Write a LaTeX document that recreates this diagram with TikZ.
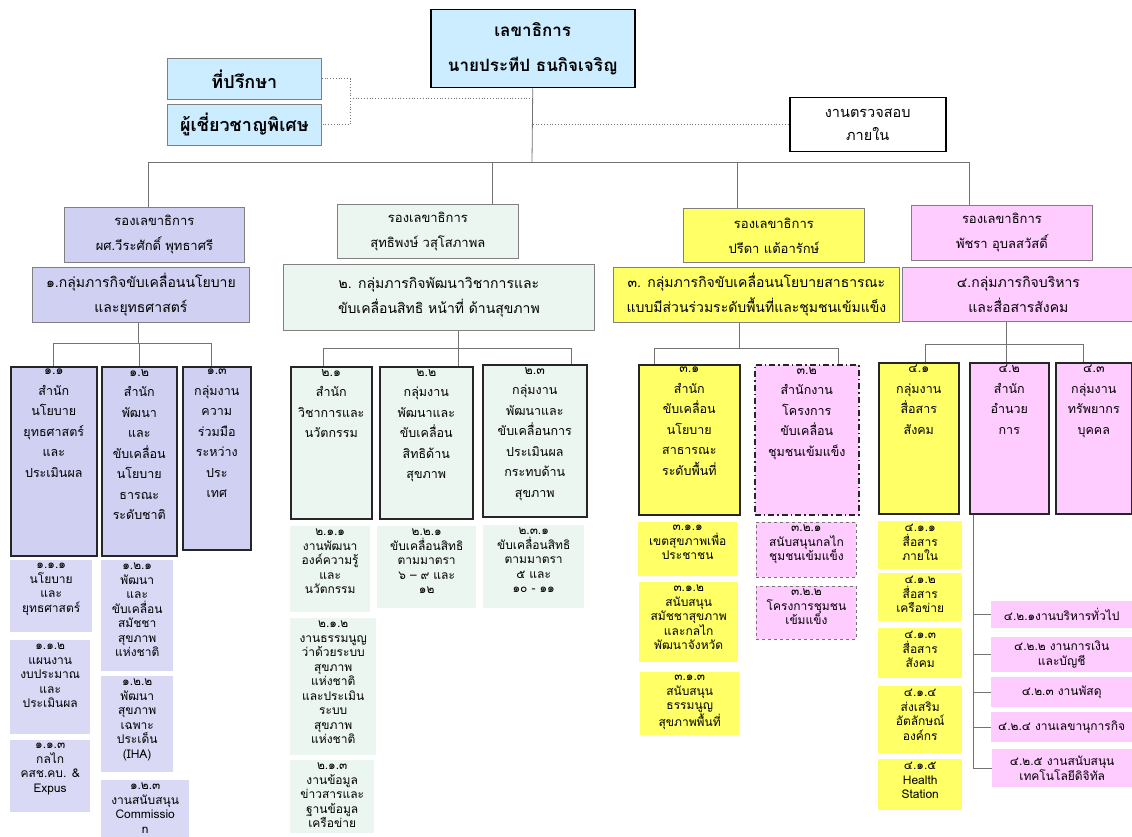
\documentclass[tikz,border=0pt]{standalone}
\usepackage{fontspec}
\setmainfont[Script=Thai]{Loma}
\usepackage{tikz}
\usetikzlibrary{positioning}

\definecolor{secblue}{RGB}{204,236,255}
\definecolor{lav}{RGB}{208,208,242}
\definecolor{lavsub}{RGB}{217,217,245}
\definecolor{mint}{RGB}{236,246,240}
\definecolor{yel}{RGB}{255,255,102}
\definecolor{pnk}{RGB}{255,204,255}

\tikzstyle{boxnw} = [rectangle, anchor=north west, inner sep=2pt, align=center]
\tikzstyle{chief} = [boxnw, draw=black, line width=1.5pt, fill=secblue, font=\fontsize{17}{35}\selectfont\bfseries]
\tikzstyle{advisor} = [boxnw, draw=black!50, line width=0.8pt, fill=secblue, font=\fontsize{18}{20}\selectfont\bfseries]
\tikzstyle{audit} = [boxnw, draw=black, line width=1.5pt, fill=white, font=\fontsize{14.5}{23}\selectfont]
\tikzstyle{deputy} = [boxnw, draw=black!50, line width=0.8pt, font=\fontsize{13}{25}\selectfont]
\tikzstyle{mission} = [boxnw, draw=black!50, line width=0.8pt, font=\fontsize{14}{25}\selectfont]
\tikzstyle{unit} = [boxnw, draw=black!85, line width=1.6pt]
\tikzstyle{subunit} = [boxnw]
\tikzstyle{unittext} = [anchor=north, align=center, inner sep=3pt, font=\fontsize{12.5}{20.5}\selectfont]
\tikzstyle{subtext} = [anchor=north, align=center, inner sep=3pt, font=\fontsize{12}{14.5}\selectfont]
\tikzstyle{worktext} = [font=\fontsize{12}{14.5}\selectfont]
\tikzstyle{link} = [draw=black!55, line width=0.8pt]
\tikzstyle{dotlink} = [draw=black!55, line width=0.8pt, dotted]

\begin{document}
\begin{tikzpicture}[x=1pt, y=-1pt]
    \clip (0,0) rectangle (1132,837);

    % top level
    \node (sec) [chief, minimum width=204, minimum height=78] at (430,9) {เลขาธิการ\\นายประทีป ธนกิจเจริญ};
    \node (adv) [advisor, minimum width=154, minimum height=41] at (167,58) {ที่ปรึกษา};
    \node (expert) [advisor, minimum width=154, minimum height=41] at (167,104) {ผู้เชี่ยวชาญพิเศษ};
    \node (audit) [audit, minimum width=156, minimum height=54] at (789,97) {งานตรวจสอบ\\ภายใน};

    % deputies
    \node (dep1) [deputy, fill=lav, minimum width=180, minimum height=55] at (64,207) {รองเลขาธิการ\\ผศ.วีระศักดิ์ พุทธาศรี};
    \node (dep2) [deputy, fill=mint, minimum width=181, minimum height=54] at (337,204) {รองเลขาธิการ\\สุทธิพงษ์ วสุโสภาพล};
    \node (dep3) [deputy, fill=yel, minimum width=181, minimum height=54] at (683,208) {รองเลขาธิการ\\ปรีดา แต้อารักษ์};
    \node (dep4) [deputy, fill=pnk, minimum width=181, minimum height=55] at (911,205) {รองเลขาธิการ\\พัชรา อุบลสวัสดิ์};

    % mission groups
    \node (grp1) [mission, fill=lav, minimum width=217, minimum height=55] at (32,267) {๑.กลุ่มภารกิจขับเคลื่อนนโยบาย\\และยุทธศาสตร์};
    \node (grp2) [mission, fill=mint, minimum width=311, minimum height=66] at (283,264) {๒. กลุ่มภารกิจพัฒนาวิชาการและ\\ขับเคลื่อนสิทธิ หน้าที่ ด้านสุขภาพ};
    \node (grp3) [mission, fill=yel, minimum width=286, minimum height=55] at (613,267) {๓. กลุ่มภารกิจขับเคลื่อนนโยบายสาธารณะ\\แบบมีส่วนร่วมระดับพื้นที่และชุมชนเข้มแข็ง};
    \node (grp4) [mission, fill=pnk, minimum width=232, minimum height=54] at (902,267) {๔.กลุ่มภารกิจบริหาร\\และสื่อสารสังคม};

    % units
    \node (u11) [unit, fill=lav, minimum width=86, minimum height=189, label={[unittext]north:{๑.๑\\สำนัก\\นโยบาย\\ยุทธศาสตร์\\และ\\ประเมินผล}}] at (10,366) {};
    \node (u12) [unit, fill=lav, minimum width=75, minimum height=189, label={[unittext]north:{๑.๒\\สำนัก\\พัฒนา\\และ\\ขับเคลื่อน\\นโยบาย\\ธารณะ\\ระดับชาติ}}] at (101,366) {};
    \node (u13) [unit, fill=lav, minimum width=68, minimum height=183, label={[unittext]north:{๑.๓\\กลุ่มงาน\\ความ\\ร่วมมือ\\ระหว่าง\\ประ\\เทศ}}] at (182,366) {};
    \node (u21) [unit, fill=mint, minimum width=81, minimum height=152, label={[unittext]north:{๒.๑\\สำนัก\\วิชาการและ\\นวัตกรรม}}] at (290,366) {};
    \node (u22) [unit, fill=mint, minimum width=93, minimum height=152, label={[unittext]north:{๒.๒\\กลุ่มงาน\\พัฒนาและ\\ขับเคลื่อน\\สิทธิด้าน\\สุขภาพ}}] at (379,366) {};
    \node (u23) [unit, fill=mint, minimum width=104, minimum height=152, label={[unittext]north:{๒.๓\\กลุ่มงาน\\พัฒนาและ\\ขับเคลื่อนการ\\ประเมินผล\\กระทบด้าน\\สุขภาพ}}] at (482,364) {};
    \node (u31) [unit, fill=yel, minimum width=101, minimum height=150, label={[unittext]north:{๓.๑\\สำนัก\\ขับเคลื่อน\\นโยบาย\\สาธารณะ\\ระดับพื้นที่}}] at (638,364) {};
    \node (u32) [unit, fill=pnk, dash pattern=on 6pt off 3pt on 1.5pt off 3pt, minimum width=104, minimum height=150, label={[unittext]north:{๓.๒\\สำนักงาน\\โครงการ\\ขับเคลื่อน\\ชุมชนเข้มแข็ง}}] at (754,364) {};
    \node (u41) [unit, fill=yel, minimum width=80, minimum height=151, label={[unittext]north:{๔.๑\\กลุ่มงาน\\สื่อสาร\\สังคม}}] at (878,362) {};
    \node (u42) [unit, fill=pnk, minimum width=79, minimum height=151, label={[unittext]north:{๔.๒\\สำนัก\\อำนวย\\การ}}] at (969,362) {};
    \node (u43) [unit, fill=pnk, minimum width=76, minimum height=151, label={[unittext]north:{๔.๓\\กลุ่มงาน\\ทรัพยากร\\บุคคล}}] at (1055,362) {};

    % sub units, group 1
    \node (s111) [subunit, fill=lavsub, minimum width=82, minimum height=72, label={[subtext]north:{๑.๑.๑\\นโยบาย\\และ\\ยุทธศาสตร์}}] at (10,560) {};
    \node (s112) [subunit, fill=lavsub, minimum width=80, minimum height=94, label={[subtext]north:{๑.๑.๒\\แผนงาน\\งบประมาณ\\และ\\ประเมินผล}}] at (10,640) {};
    \node (s113) [subunit, fill=lavsub, minimum width=80, minimum height=72, label={[subtext]north:{๑.๑.๓\\กลไก\\คสช.คบ. \&\\Expus}}] at (10,740) {};
    \node (s121) [subunit, fill=lavsub, minimum width=72, minimum height=111, label={[subtext]north:{๑.๒.๑\\พัฒนา\\และ\\ขับเคลื่อน\\สมัชชา\\สุขภาพ\\แห่งชาติ}}] at (101,560) {};
    \node (s122) [subunit, fill=lavsub, minimum width=72, minimum height=96, label={[subtext]north:{๑.๒.๒\\พัฒนา\\สุขภาพ\\เฉพาะ\\ประเด็น\\(IHA)}}] at (101,676) {};
    \node (s123) [subunit, fill=lavsub, minimum width=88, minimum height=70, label={[subtext]north:{๑.๒.๓\\งานสนับสนุน\\Commissio\\n}}] at (101,780) {};

    % sub units, group 2
    \node (s211) [subunit, fill=mint, minimum width=80, minimum height=86, label={[subtext]north:{๒.๑.๑\\งานพัฒนา\\องค์ความรู้\\และ\\นวัตกรรม}}] at (290,526) {};
    \node (s212) [subunit, fill=mint, minimum width=86, minimum height=137, label={[subtext]north:{๒.๑.๒\\งานธรรมนูญ\\ว่าด้วยระบบ\\สุขภาพ\\แห่งชาติ\\และประเมิน\\ระบบ\\สุขภาพ\\แห่งชาติ}}] at (290,618) {};
    \node (s213) [subunit, fill=mint, minimum width=84, minimum height=73, label={[subtext]north:{๒.๑.๓\\งานข้อมูล\\ข่าวสารและ\\ฐานข้อมูล\\เครือข่าย}}] at (290,760) {};
    \node (s221) [subunit, fill=mint, minimum width=99, minimum height=82, label={[subtext]north:{๒.๒.๑\\ขับเคลื่อนสิทธิ\\ตามมาตรา\\๖ – ๙ และ\\๑๒}}] at (377,526) {};
    \node (s231) [subunit, fill=mint, minimum width=101, minimum height=83, label={[subtext]north:{๒.๓.๑\\ขับเคลื่อนสิทธิ\\ตามมาตรา\\๕ และ\\๑๐ - ๑๑}}] at (483,525) {};

    % sub units, group 3
    \node (s311) [subunit, fill=yel, minimum width=99, minimum height=54, label={[subtext]north:{๓.๑.๑\\เขตสุขภาพเพื่อ\\ประชาชน}}] at (638,522) {};
    \node (s312) [subunit, fill=yel, minimum width=99, minimum height=80, label={[subtext]north:{๓.๑.๒\\สนับสนุน\\สมัชชาสุขภาพ\\และกลไก\\พัฒนาจังหวัด}}] at (639,582) {};
    \node (s313) [subunit, fill=yel, minimum width=99, minimum height=63, label={[subtext]north:{๓.๑.๓\\สนับสนุน\\ธรรมนูญ\\สุขภาพพื้นที่}}] at (640,672) {};
    \node (s321) [subunit, fill=pnk, draw=black!55, dashed, line width=0.8pt, minimum width=100, minimum height=55, label={[subtext]north:{๓.๒.๑\\สนับสนุนกลไก\\ชุมชนเข้มแข็ง}}] at (756,522) {};
    \node (s322) [subunit, fill=pnk, draw=black!55, dashed, line width=0.8pt, minimum width=100, minimum height=53, label={[subtext]north:{๓.๒.๒\\โครงการชุมชน\\เข้มแข็ง}}] at (756,586) {};

    % sub units, group 4
    \node (s411) [subunit, fill=yel, minimum width=84, minimum height=48, label={[subtext]north:{๔.๑.๑\\สื่อสาร\\ภายใน}}] at (878,521) {};
    \node (s412) [subunit, fill=yel, minimum width=84, minimum height=48, label={[subtext]north:{๔.๑.๒\\สื่อสาร\\เครือข่าย}}] at (878,573) {};
    \node (s413) [subunit, fill=yel, minimum width=84, minimum height=50, label={[subtext]north:{๔.๑.๓\\สื่อสาร\\สังคม}}] at (878,628) {};
    \node (s414) [subunit, fill=yel, minimum width=84, minimum height=67, label={[subtext]north:{๔.๑.๔\\ส่งเสริม\\อัตลักษณ์\\องค์กร}}] at (878,686) {};
    \node (s415) [subunit, fill=yel, minimum width=84, minimum height=51, label={[subtext]north:{๔.๑.๕\\Health\\Station}}] at (878,759) {};
    \node (s421) [subunit, worktext, fill=pnk, minimum width=141, minimum height=27] at (991,601) {๔.๒.๑งานบริหารทั่วไป};
    \node (s422) [subunit, worktext, fill=pnk, minimum width=141, minimum height=35] at (991,637) {๔.๒.๒ งานการเงิน\\และบัญชี};
    \node (s423) [subunit, worktext, fill=pnk, minimum width=141, minimum height=30] at (991,677) {๔.๒.๓ งานพัสดุ};
    \node (s424) [subunit, worktext, fill=pnk, minimum width=141, minimum height=30] at (991,712) {๔.๒.๔ งานเลขานุการกิจ};
    \node (s425) [subunit, worktext, fill=pnk, minimum width=140, minimum height=38] at (992,749) {๔.๒.๕ งานสนับสนุน\\เทคโนโลยีดิจิทัล};

    % dotted staff lines
    \coordinate (brk) at (350,98);
    \draw [dotlink] (adv.east) -| (brk) |- (expert.east);
    \draw [dotlink] (brk) -- (brk -| sec.south);
    \draw [dotlink] (audit.west -| sec.south) -- (audit.west);

    % main tree
    \coordinate (bus) at (532,162);
    \draw [link] (sec.south) -- (bus);
    \draw [link] ([xshift=-6]dep1.north) |- (bus);
    \draw [link] ([xshift=64]dep2.north) |- (bus);
    \draw [link] ([xshift=-37]dep3.north) |- (bus);
    \draw [link] ([xshift=-33]dep4.north) |- (bus);

    \coordinate (b1) at (138,343);
    \draw [link] (grp1.south -| b1) -- (b1);
    \draw [link] (u11.north) |- (b1);
    \draw [link] (u12.north) |- (b1);
    \draw [link] ([xshift=-5]u13.north) |- (b1);

    \coordinate (b2) at (458,348);
    \draw [link] (grp2.south -| b2) -- (b2);
    \draw [link] ([xshift=-8]u21.north) |- (b2);
    \draw [link] ([xshift=32]u22.north) |- (b2);
    \draw [link] ([xshift=37]u23.north) |- (b2);

    \coordinate (b3) at (739,348);
    \draw [link] (grp3.south -| b3) -- (b3);
    \draw [link] ([xshift=-35]u31.north) |- (b3);
    \draw [link] ([xshift=32]u32.north) |- (b3);

    \coordinate (b4) at (1006,344);
    \draw [link] (grp4.south -| b4) -- (b4);
    \draw [link] (b4) -- (b4 |- u42.north);
    \draw [link] ([xshift=7]u41.north) |- (b4);
    \draw [link] ([xshift=-10]u43.north) |- (b4);

    % admin office works
    \draw [link] ([xshift=4]u42.south west) |- (s421.west);
    \draw [link] ([xshift=4]u42.south west) |- (s422.west);
    \draw [link] ([xshift=4]u42.south west) |- (s423.west);
    \draw [link] ([xshift=4]u42.south west) |- (s424.west);
    \draw [link] ([xshift=4]u42.south west) |- (s425.west);

\end{tikzpicture}
\end{document}
